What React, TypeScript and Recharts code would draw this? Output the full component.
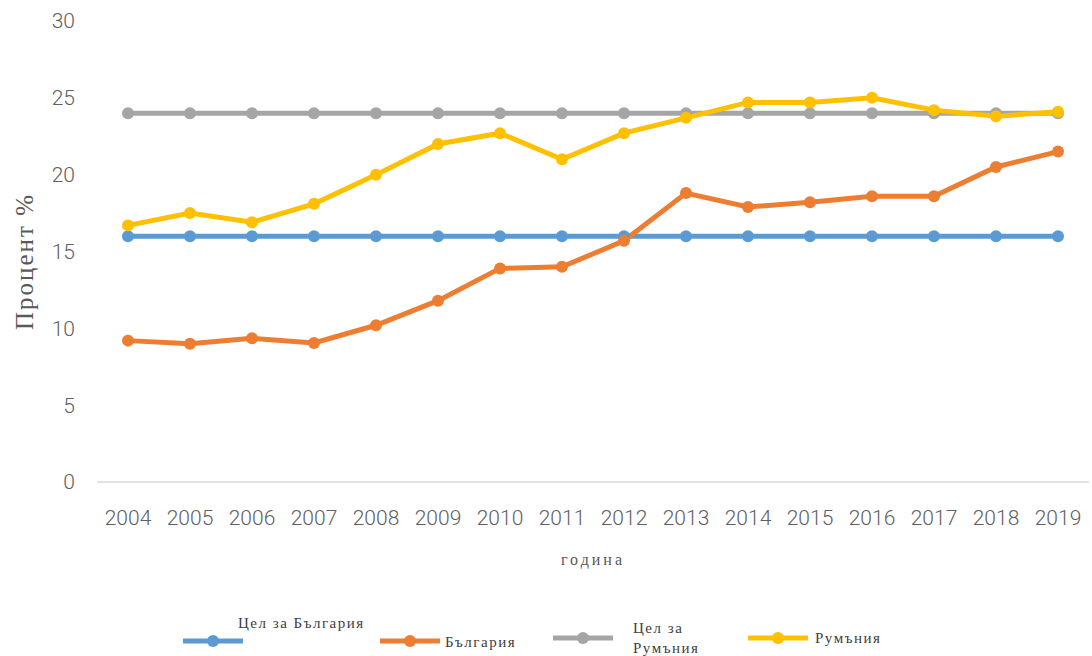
import React from 'react';
import { LineChart, Line, XAxis, YAxis, Label } from 'recharts';

const years = ['2004','2005','2006','2007','2008','2009','2010','2011','2012','2013','2014','2015','2016','2017','2018','2019'];
const targetBulgaria = [16,16,16,16,16,16,16,16,16,16,16,16,16,16,16,16];
const bulgaria = [9.2,9.0,9.35,9.05,10.2,11.8,13.9,14.0,15.7,18.8,17.9,18.2,18.6,18.6,20.5,21.5];
const targetRomania = [24,24,24,24,24,24,24,24,24,24,24,24,24,24,24,24];
const romania = [16.7,17.5,16.9,18.1,20.0,22.0,22.7,21.0,22.7,23.7,24.7,24.7,25.0,24.2,23.8,24.1];
const yTicks = [0,5,10,15,20,25,30];

const seriesNames = ['Цел за България', 'България', 'Цел за Румъния', 'Румъния'];
const colors = ['#5b9bd5', '#ed7d31', '#a5a5a5', '#ffc000'];

const data = years.map((y, i) => ({
  year: y,
  s0: targetBulgaria[i],
  s1: bulgaria[i],
  s2: targetRomania[i],
  s3: romania[i],
}));

const tickStyle = { fontFamily: 'Roboto', fontSize: 21, fill: '#606060', fontWeight: 300 };

const YLabel = (props: any) => {
  const vb = props.viewBox || { x: 0, y: 0, width: 0, height: 0 };
  const cx = vb.x + 24;
  const cy = vb.y + vb.height / 2 + 10;
  return (
    <text x={cx} y={cy} transform={`rotate(-90 ${cx} ${cy})`} textAnchor="middle" dominantBaseline="central"
      style={{ fontFamily: 'Liberation Serif', fontSize: 25, fill: '#595959', letterSpacing: 2 }}>
      Процент %
    </text>
  );
};

const legendLayout = [
  { ix: 183, iy: 641, lines: [{ t: seriesNames[0], x: 238, y: 623 }] },
  { ix: 380, iy: 641, lines: [{ t: 'България', x: 445, y: 642 }] },
  { ix: 553, iy: 638, lines: [{ t: 'Цел за', x: 633, y: 628 }, { t: 'Румъния', x: 633, y: 648 }] },
  { ix: 748, iy: 638, lines: [{ t: 'Румъния', x: 815, y: 638 }] },
];

export default function App() {
  return (
    <div style={{ position: 'absolute', left: 0, top: 0, width: 1092, height: 656, background: '#fff' }}>
      <LineChart width={1092} height={656} data={data} margin={{ top: 21, right: 3, left: 0, bottom: 0 }}>
        <XAxis dataKey="year" height={174} tickLine={false} axisLine={{ stroke: '#d9d9d9', strokeWidth: 1.5 }}
          tick={tickStyle} tickMargin={22} interval={0} padding={{ left: 31, right: 31 }}>
          <Label position="insideTop" offset={72} value="година"
            style={{ fontFamily: 'Liberation Serif', fontSize: 16, fill: '#595959', letterSpacing: 3 }} />
        </XAxis>
        <YAxis width={97} domain={[0, 30]} ticks={yTicks} axisLine={false} tickLine={false} tick={tickStyle}
          tickMargin={16} interval={0}>
          <Label content={<YLabel />} />
        </YAxis>
        {['s0', 's1', 's2', 's3'].map((k, i) => (
          <Line key={k} dataKey={k} name={seriesNames[i]} stroke={colors[i]} strokeWidth={5}
            dot={{ r: 6, fill: colors[i], stroke: colors[i], strokeWidth: 0 }} isAnimationActive={false} />
        ))}
      </LineChart>
      <svg width={1092} height={656} style={{ position: 'absolute', left: 0, top: 0, pointerEvents: 'none' }}>
        {legendLayout.map((it, i) => (
          <g key={i}>
            <line x1={it.ix} y1={it.iy} x2={it.ix + 60} y2={it.iy} stroke={colors[i]} strokeWidth={5} />
            <circle cx={it.ix + 30} cy={it.iy} r={6} fill={colors[i]} />
            {it.lines.map((l, j) => (
              <text key={j} x={l.x} y={l.y} dominantBaseline="central"
                style={{ fontFamily: 'Liberation Serif', fontSize: 15, fill: '#404040', letterSpacing: 1.5 }}>
                {l.t}
              </text>
            ))}
          </g>
        ))}
      </svg>
    </div>
  );
}
